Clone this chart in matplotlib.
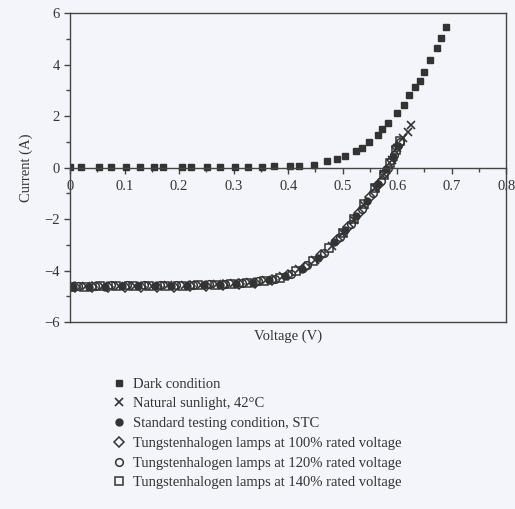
import matplotlib
matplotlib.use('Agg')
import matplotlib.pyplot as plt
from matplotlib.ticker import MultipleLocator

BG = '#f3f5fa'
INK = '#333333'

# dark condition
dark_v = [0.0, 0.02, 0.053, 0.076, 0.103, 0.128, 0.154, 0.170, 0.205, 0.221, 0.251, 0.275, 0.303,
          0.327, 0.352, 0.374, 0.404, 0.420, 0.448, 0.472, 0.490, 0.505, 0.525, 0.536, 0.548,
          0.565, 0.573, 0.584, 0.600, 0.613, 0.621, 0.632, 0.642, 0.649, 0.661, 0.673, 0.681, 0.690]
dark_i = [0.03, 0.03, 0.03, 0.03, 0.03, 0.03, 0.03, 0.03, 0.03, 0.03, 0.03, 0.03, 0.03,
          0.04, 0.04, 0.05, 0.06, 0.07, 0.12, 0.25, 0.34, 0.44, 0.66, 0.76, 1.01,
          1.26, 1.50, 1.74, 2.13, 2.45, 2.82, 3.12, 3.37, 3.71, 4.17, 4.66, 5.03, 5.48]

# natural sunlight, 42 C
nat_v = [0.0, 0.03, 0.06, 0.09, 0.12, 0.15, 0.18, 0.21, 0.24, 0.27, 0.30, 0.33, 0.36, 0.39,
         0.42, 0.45, 0.48, 0.50, 0.52, 0.54, 0.56, 0.575, 0.59, 0.60, 0.61, 0.62, 0.626]
nat_i = [-4.60, -4.60, -4.59, -4.59, -4.58, -4.58, -4.57, -4.56, -4.54, -4.52, -4.49, -4.44,
         -4.36, -4.22, -3.95, -3.58, -3.05, -2.55, -2.02, -1.45, -0.80, -0.25, 0.30, 0.75,
         1.15, 1.40, 1.65]

# standard testing condition
stc_v = [0.005, 0.035, 0.065, 0.095, 0.125, 0.155, 0.185, 0.215, 0.245, 0.275, 0.305, 0.335,
         0.365, 0.395, 0.425, 0.455, 0.485, 0.505, 0.525, 0.545, 0.565, 0.58, 0.592, 0.602]
stc_i = [-4.63, -4.62, -4.62, -4.61, -4.61, -4.60, -4.60, -4.59, -4.57, -4.55, -4.51, -4.46,
         -4.38, -4.22, -3.93, -3.50, -2.90, -2.42, -1.88, -1.30, -0.65, -0.05, 0.40, 0.85]

# tungstenhalogen lamps, 100 / 120 / 140 % rated voltage
l100_v = [0.01, 0.04, 0.07, 0.10, 0.13, 0.16, 0.19, 0.22, 0.25, 0.28, 0.31, 0.34, 0.37, 0.40,
          0.43, 0.46, 0.49, 0.51, 0.53, 0.55, 0.565, 0.578, 0.59, 0.60]
l100_i = [-4.65, -4.64, -4.64, -4.63, -4.63, -4.62, -4.62, -4.61, -4.59, -4.57, -4.53, -4.48,
          -4.38, -4.18, -3.85, -3.40, -2.80, -2.30, -1.75, -1.15, -0.68, -0.20, 0.30, 0.80]

l120_v = [0.015, 0.045, 0.075, 0.105, 0.135, 0.165, 0.195, 0.225, 0.255, 0.285, 0.315, 0.345,
          0.375, 0.405, 0.435, 0.465, 0.495, 0.515, 0.535, 0.555, 0.57, 0.583, 0.595, 0.605]
l120_i = [-4.58, -4.58, -4.57, -4.57, -4.56, -4.56, -4.55, -4.54, -4.52, -4.50, -4.46, -4.41,
          -4.32, -4.13, -3.78, -3.30, -2.68, -2.18, -1.62, -1.00, -0.50, 0.00, 0.50, 1.00]

l140_v = [0.0, 0.025, 0.055, 0.085, 0.115, 0.145, 0.175, 0.205, 0.235, 0.265, 0.295, 0.325,
          0.355, 0.385, 0.415, 0.445, 0.475, 0.50, 0.52, 0.54, 0.56, 0.575, 0.587, 0.598, 0.605]
l140_i = [-4.62, -4.62, -4.61, -4.61, -4.60, -4.60, -4.59, -4.58, -4.56, -4.54, -4.51, -4.47,
          -4.40, -4.27, -4.02, -3.62, -3.10, -2.55, -2.00, -1.42, -0.80, -0.30, 0.20, 0.70, 1.05]

labels = ['Dark condition',
          'Natural sunlight, 42\u00b0C',
          'Standard testing condition, STC',
          'Tungstenhalogen lamps at 100% rated voltage',
          'Tungstenhalogen lamps at 120% rated voltage',
          'Tungstenhalogen lamps at 140% rated voltage']

plt.rcParams['font.family'] = ['Liberation Serif', 'DejaVu Serif']
plt.rcParams['font.size'] = 10.5

fig = plt.figure(figsize=(5.15, 5.09), dpi=100, facecolor=BG)
ax = fig.add_axes([0.136, 0.367, 0.847, 0.607])
ax.set_facecolor(BG)

h1, = ax.plot(dark_v, dark_i, 's', ms=4.6, color=INK, mec=INK, label=labels[0])
h2, = ax.plot(nat_v, nat_i, 'x', ms=5.5, mew=1.2, color=INK, label=labels[1])
h3, = ax.plot(stc_v, stc_i, 'o', ms=5, color=INK, label=labels[2])
h4, = ax.plot(l100_v, l100_i, 'D', ms=5, mfc='none', mec=INK, mew=1.1, label=labels[3])
h5, = ax.plot(l120_v, l120_i, 'o', ms=5.5, mfc='none', mec=INK, mew=1.1, label=labels[4])
h6, = ax.plot(l140_v, l140_i, 's', ms=5.5, mfc='none', mec=INK, mew=1.1, label=labels[5])

ax.set_xlim(0, 0.8)
ax.set_ylim(-6, 6)

for s in ax.spines.values():
    s.set_color('#444444')
    s.set_linewidth(1.0)
ax.spines['bottom'].set_position(('data', 0))
ax.axhline(-6, color='#444444', lw=1.0, clip_on=False)

ax.xaxis.set_major_locator(MultipleLocator(0.1))
ax.xaxis.set_minor_locator(MultipleLocator(0.05))
ax.yaxis.set_major_locator(MultipleLocator(2))
ax.yaxis.set_minor_locator(MultipleLocator(1))
ax.set_xticks([0, 0.1, 0.2, 0.3, 0.4, 0.5, 0.6, 0.7, 0.8])
ax.set_xticklabels(['0', '0.1', '0.2', '0.3', '0.4', '0.5', '0.6', '0.7', '0.8'])
ax.set_yticks([-6, -4, -2, 0, 2, 4, 6])
ax.set_yticklabels(['\u22126', '\u22124', '\u22122', '0', '2', '4', '6'])
ax.tick_params(which='both', direction='out', colors='#444444', labelcolor='#333333',
               top=False, right=False)
ax.tick_params(which='major', length=4, width=1.0)
ax.tick_params(which='minor', length=3, width=1.0)
ax.tick_params(axis='x', pad=5)

ax.set_ylabel('Current (A)', color='#333333', labelpad=8)
ax.set_xlabel('Voltage (V)', color='#333333')
ax.xaxis.set_label_coords(0.5, -0.025)

fig.legend(handles=[h1, h2, h3, h4, h5, h6], loc='upper left',
           bbox_to_anchor=(0.205, 0.27), frameon=False, handlelength=1.0,
           handletextpad=0.45, labelspacing=0.45, borderaxespad=0,
           labelcolor='#333333')

fig.savefig('out.png', dpi=100, facecolor=BG)
